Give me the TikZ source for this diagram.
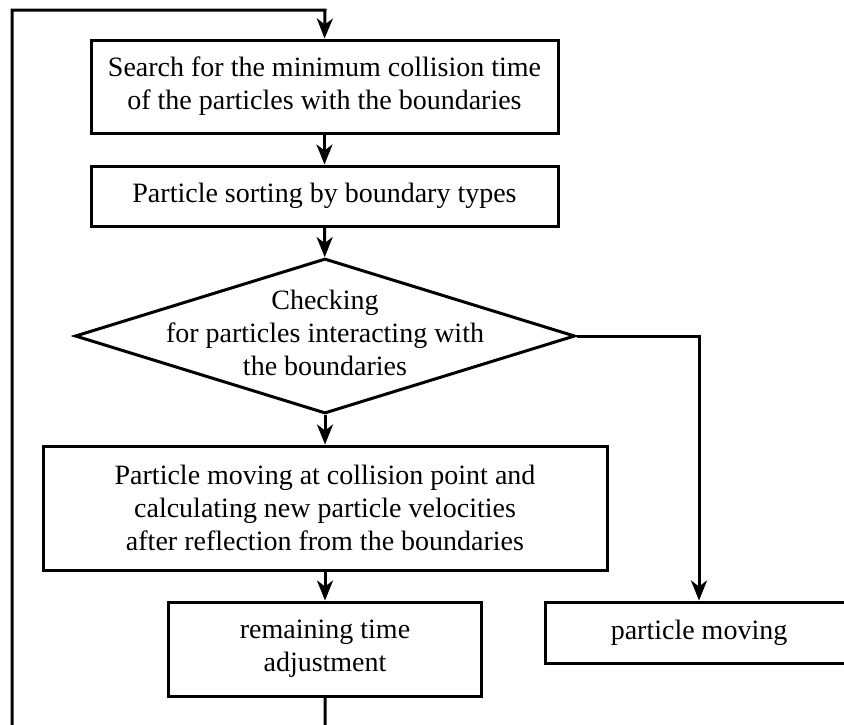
\documentclass[tikz,border=0pt]{standalone}
\usepackage{fontspec}
\setmainfont{Liberation Serif}
\usetikzlibrary{shapes.geometric,arrows.meta}
\begin{document}
\begin{tikzpicture}[x=0.5pt,y=-0.5pt,
  box/.style={draw,line width=1.5pt,align=center,inner sep=0pt,font=\fontsize{14pt}{16.5pt}\selectfont},
  txt/.style={align=center,inner sep=0pt,font=\fontsize{14pt}{16.5pt}\selectfont},
  conn/.style={line width=1.5pt,-{Stealth[length=10pt,width=8pt,inset=3pt]}},
  plain/.style={line width=1.5pt}]
\useasboundingbox (0,0) rectangle (844,724);
\clip (0,0) rectangle (844,724);
\fill[white] (0,0) rectangle (844,724);
\node[box,minimum width=233.5pt,minimum height=46.5pt] (b1) at (324.5,86.5)
  {Search for the minimum collision time\\of the particles with the boundaries};
\node[box,minimum width=233.5pt,minimum height=30pt] (b2) at (324.5,196)
  {Particle sorting by boundary types};
\node[diamond,draw,line width=1.5pt,minimum width=250pt,minimum height=77.5pt,inner sep=0pt] (d) at (325,336) {};
\node[txt] (dt) at (325,333) {Checking\\for particles interacting with\\the boundaries};
\node[box,minimum width=282pt,minimum height=62pt] (b3) at (325,508)
  {Particle moving at collision point and\\calculating new particle velocities\\after reflection from the boundaries};
\node[box,minimum width=156.5pt,minimum height=47pt] (b4) at (325,649)
  {remaining time\\adjustment};
\node[box,minimum width=154pt,minimum height=30.5pt] (b5) at (699,632.5)
  {particle moving};
\coordinate (lb) at (325,760);
\coordinate (ll) at (12,760);
\coordinate (lt) at (12,10);
\coordinate (lr) at (325,10);
\draw[conn] (b1) -- (b2);
\draw[conn] (b2) -- (d);
\draw[conn] (d) -- (b3);
\draw[conn] (b3) -- (b4);
\draw[conn] (d.east) -| (b5.north);
\draw[conn] (b4.south) -- (lb) -- (ll) -- (lt) -- (lr) -- (b1.north);
\end{tikzpicture}
\end{document}
